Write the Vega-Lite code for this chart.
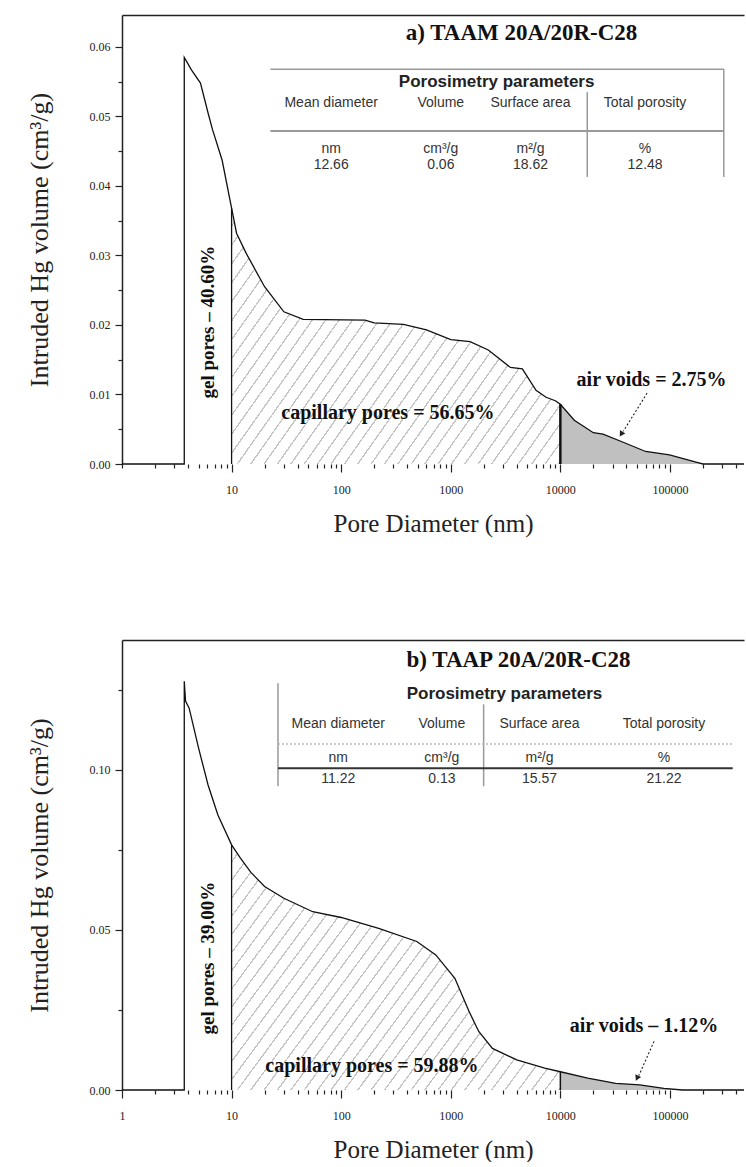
{
 "$schema": "https://vega.github.io/schema/vega-lite/v6.json",
 "background": "white",
 "padding": {"left": 26, "top": 15, "right": 0, "bottom": 0},
 "spacing": 104,
 "config": {
  "view": {"stroke": null},
  "axis": {"labelFont": "Liberation Serif", "titleFont": "Liberation Serif", "labelColor": "#222", "titleColor": "#222", "tickColor": "#222", "domainColor": "#222", "grid": false, "titleFontWeight": "normal"}
 },
 "datasets": {
  "a": [
   {"d":1,"v":0},{"d":3.7,"v":0},{"d":3.7,"v":0.0585},{"d":4.3,"v":0.0567},{"d":5.2,"v":0.0548},{"d":6.1,"v":0.0505},{"d":6.7,"v":0.0481},{"d":8.2,"v":0.0437},{"d":10,"v":0.0368},{"d":11.1,"v":0.0332},{"d":13.6,"v":0.0303},{"d":20,"v":0.0255},{"d":30,"v":0.0219},{"d":45,"v":0.0208},{"d":165,"v":0.0207},{"d":200,"v":0.0203},{"d":370,"v":0.0201},{"d":600,"v":0.0193},{"d":1000,"v":0.0179},{"d":1500,"v":0.0176},{"d":2200,"v":0.0164},{"d":3500,"v":0.0139},{"d":4500,"v":0.0137},{"d":6000,"v":0.0106},{"d":7400,"v":0.0096},{"d":9000,"v":0.0091},{"d":10000,"v":0.0086},{"d":13400,"v":0.0063},{"d":20000,"v":0.0045},{"d":24500,"v":0.0043},{"d":36500,"v":0.0032},{"d":60000,"v":0.0018},{"d":99000,"v":0.0013},{"d":180000,"v":0.0002},{"d":200000,"v":0},{"d":474000,"v":0}
  ],
  "b": [
   {"d":1,"v":0},{"d":3.7,"v":0},{"d":3.7,"v":0.1277},{"d":3.8,"v":0.1215},{"d":4.1,"v":0.1193},{"d":5,"v":0.1068},{"d":6.1,"v":0.0953},{"d":7.5,"v":0.0859},{"d":10,"v":0.0766},{"d":12,"v":0.0725},{"d":15,"v":0.068},{"d":20,"v":0.0636},{"d":30,"v":0.0599},{"d":55,"v":0.0557},{"d":100,"v":0.0539},{"d":220,"v":0.0505},{"d":490,"v":0.0464},{"d":730,"v":0.0422},{"d":1090,"v":0.0349},{"d":1470,"v":0.0245},{"d":1800,"v":0.0183},{"d":2400,"v":0.013},{"d":4000,"v":0.0094},{"d":7200,"v":0.0068},{"d":10000,"v":0.0057},{"d":17800,"v":0.0037},{"d":32000,"v":0.0021},{"d":53000,"v":0.0016},{"d":88000,"v":0.0005},{"d":130000,"v":0},{"d":474000,"v":0}
  ],
  "ta": [
   {"t":"Mean diameter","d":81,"v":0.0519},{"t":"Volume","d":811,"v":0.0519},{"t":"Surface area","d":5340,"v":0.0519},{"t":"Total porosity","d":59300,"v":0.0519},
   {"t":"nm","d":81,"v":0.0453},{"t":"cm³/g","d":811,"v":0.0453},{"t":"m²/g","d":5340,"v":0.0453},{"t":"%","d":59300,"v":0.0453},
   {"t":"12.66","d":81,"v":0.0430},{"t":"0.06","d":811,"v":0.0430},{"t":"18.62","d":5340,"v":0.0430},{"t":"12.48","d":59300,"v":0.0430}
  ],
  "tb": [
   {"t":"Mean diameter","d":94,"v":0.1143},{"t":"Volume","d":829,"v":0.1143},{"t":"Surface area","d":6450,"v":0.1143},{"t":"Total porosity","d":88200,"v":0.1143},
   {"t":"nm","d":94,"v":0.1037},{"t":"cm³/g","d":829,"v":0.1037},{"t":"m²/g","d":6450,"v":0.1037},{"t":"%","d":88200,"v":0.1037},
   {"t":"11.22","d":94,"v":0.0971},{"t":"0.13","d":829,"v":0.0971},{"t":"15.57","d":6450,"v":0.0971},{"t":"21.22","d":88200,"v":0.0971}
  ],
  "one": [{}]
 },
 "vconcat": [
  {
   "width": 622, "height": 449,
   "resolve": {"axis": {"x": "independent", "y": "independent"}},
   "layer": [
    {
     "layer": [
      {"data": {"name": "a"}, "transform": [{"filter": "datum.d >= 10 && datum.d <= 10000"}],
       "mark": {"type": "area", "fill": {"gradient": "linear", "x1": 0, "y1": 0, "x2": 1.25, "y2": 0.6875, "stops": [
   {"offset":0,"color":"#fff"},{"offset":0.022,"color":"#fff"},{"offset":0.022,"color":"#c4c4c4"},{"offset":0.025,"color":"#c4c4c4"},
   {"offset":0.025,"color":"#fff"},{"offset":0.047,"color":"#fff"},{"offset":0.047,"color":"#c4c4c4"},{"offset":0.05,"color":"#c4c4c4"},
   {"offset":0.05,"color":"#fff"},{"offset":0.072,"color":"#fff"},{"offset":0.072,"color":"#c4c4c4"},{"offset":0.075,"color":"#c4c4c4"},
   {"offset":0.075,"color":"#fff"},{"offset":0.097,"color":"#fff"},{"offset":0.097,"color":"#c4c4c4"},{"offset":0.1,"color":"#c4c4c4"},
   {"offset":0.1,"color":"#fff"},{"offset":0.122,"color":"#fff"},{"offset":0.122,"color":"#c4c4c4"},{"offset":0.125,"color":"#c4c4c4"},
   {"offset":0.125,"color":"#fff"},{"offset":0.147,"color":"#fff"},{"offset":0.147,"color":"#c4c4c4"},{"offset":0.15,"color":"#c4c4c4"},
   {"offset":0.15,"color":"#fff"},{"offset":0.172,"color":"#fff"},{"offset":0.172,"color":"#c4c4c4"},{"offset":0.175,"color":"#c4c4c4"},
   {"offset":0.175,"color":"#fff"},{"offset":0.197,"color":"#fff"},{"offset":0.197,"color":"#c4c4c4"},{"offset":0.2,"color":"#c4c4c4"},
   {"offset":0.2,"color":"#fff"},{"offset":0.222,"color":"#fff"},{"offset":0.222,"color":"#c4c4c4"},{"offset":0.225,"color":"#c4c4c4"},
   {"offset":0.225,"color":"#fff"},{"offset":0.247,"color":"#fff"},{"offset":0.247,"color":"#c4c4c4"},{"offset":0.25,"color":"#c4c4c4"},
   {"offset":0.25,"color":"#fff"},{"offset":0.272,"color":"#fff"},{"offset":0.272,"color":"#c4c4c4"},{"offset":0.275,"color":"#c4c4c4"},
   {"offset":0.275,"color":"#fff"},{"offset":0.297,"color":"#fff"},{"offset":0.297,"color":"#c4c4c4"},{"offset":0.3,"color":"#c4c4c4"},
   {"offset":0.3,"color":"#fff"},{"offset":0.322,"color":"#fff"},{"offset":0.322,"color":"#c4c4c4"},{"offset":0.325,"color":"#c4c4c4"},
   {"offset":0.325,"color":"#fff"},{"offset":0.347,"color":"#fff"},{"offset":0.347,"color":"#c4c4c4"},{"offset":0.35,"color":"#c4c4c4"},
   {"offset":0.35,"color":"#fff"},{"offset":0.372,"color":"#fff"},{"offset":0.372,"color":"#c4c4c4"},{"offset":0.375,"color":"#c4c4c4"},
   {"offset":0.375,"color":"#fff"},{"offset":0.397,"color":"#fff"},{"offset":0.397,"color":"#c4c4c4"},{"offset":0.4,"color":"#c4c4c4"},
   {"offset":0.4,"color":"#fff"},{"offset":0.422,"color":"#fff"},{"offset":0.422,"color":"#c4c4c4"},{"offset":0.425,"color":"#c4c4c4"},
   {"offset":0.425,"color":"#fff"},{"offset":0.447,"color":"#fff"},{"offset":0.447,"color":"#c4c4c4"},{"offset":0.45,"color":"#c4c4c4"},
   {"offset":0.45,"color":"#fff"},{"offset":0.472,"color":"#fff"},{"offset":0.472,"color":"#c4c4c4"},{"offset":0.475,"color":"#c4c4c4"},
   {"offset":0.475,"color":"#fff"},{"offset":0.497,"color":"#fff"},{"offset":0.497,"color":"#c4c4c4"},{"offset":0.5,"color":"#c4c4c4"},
   {"offset":0.5,"color":"#fff"},{"offset":0.522,"color":"#fff"},{"offset":0.522,"color":"#c4c4c4"},{"offset":0.525,"color":"#c4c4c4"},
   {"offset":0.525,"color":"#fff"},{"offset":0.547,"color":"#fff"},{"offset":0.547,"color":"#c4c4c4"},{"offset":0.55,"color":"#c4c4c4"},
   {"offset":0.55,"color":"#fff"},{"offset":0.572,"color":"#fff"},{"offset":0.572,"color":"#c4c4c4"},{"offset":0.575,"color":"#c4c4c4"},
   {"offset":0.575,"color":"#fff"},{"offset":0.597,"color":"#fff"},{"offset":0.597,"color":"#c4c4c4"},{"offset":0.6,"color":"#c4c4c4"},
   {"offset":0.6,"color":"#fff"},{"offset":0.622,"color":"#fff"},{"offset":0.622,"color":"#c4c4c4"},{"offset":0.625,"color":"#c4c4c4"},
   {"offset":0.625,"color":"#fff"},{"offset":0.647,"color":"#fff"},{"offset":0.647,"color":"#c4c4c4"},{"offset":0.65,"color":"#c4c4c4"},
   {"offset":0.65,"color":"#fff"},{"offset":0.672,"color":"#fff"},{"offset":0.672,"color":"#c4c4c4"},{"offset":0.675,"color":"#c4c4c4"},
   {"offset":0.675,"color":"#fff"},{"offset":0.697,"color":"#fff"},{"offset":0.697,"color":"#c4c4c4"},{"offset":0.7,"color":"#c4c4c4"},
   {"offset":0.7,"color":"#fff"},{"offset":0.722,"color":"#fff"},{"offset":0.722,"color":"#c4c4c4"},{"offset":0.725,"color":"#c4c4c4"},
   {"offset":0.725,"color":"#fff"},{"offset":0.747,"color":"#fff"},{"offset":0.747,"color":"#c4c4c4"},{"offset":0.75,"color":"#c4c4c4"},
   {"offset":0.75,"color":"#fff"},{"offset":0.772,"color":"#fff"},{"offset":0.772,"color":"#c4c4c4"},{"offset":0.775,"color":"#c4c4c4"},
   {"offset":0.775,"color":"#fff"},{"offset":0.797,"color":"#fff"},{"offset":0.797,"color":"#c4c4c4"},{"offset":0.8,"color":"#c4c4c4"},
   {"offset":0.8,"color":"#fff"},{"offset":0.822,"color":"#fff"},{"offset":0.822,"color":"#c4c4c4"},{"offset":0.825,"color":"#c4c4c4"},
   {"offset":0.825,"color":"#fff"},{"offset":0.847,"color":"#fff"},{"offset":0.847,"color":"#c4c4c4"},{"offset":0.85,"color":"#c4c4c4"},
   {"offset":0.85,"color":"#fff"},{"offset":0.872,"color":"#fff"},{"offset":0.872,"color":"#c4c4c4"},{"offset":0.875,"color":"#c4c4c4"},
   {"offset":0.875,"color":"#fff"},{"offset":0.897,"color":"#fff"},{"offset":0.897,"color":"#c4c4c4"},{"offset":0.9,"color":"#c4c4c4"},
   {"offset":0.9,"color":"#fff"},{"offset":0.922,"color":"#fff"},{"offset":0.922,"color":"#c4c4c4"},{"offset":0.925,"color":"#c4c4c4"},
   {"offset":0.925,"color":"#fff"},{"offset":0.947,"color":"#fff"},{"offset":0.947,"color":"#c4c4c4"},{"offset":0.95,"color":"#c4c4c4"},
   {"offset":0.95,"color":"#fff"},{"offset":0.972,"color":"#fff"},{"offset":0.972,"color":"#c4c4c4"},{"offset":0.975,"color":"#c4c4c4"},
   {"offset":0.975,"color":"#fff"},{"offset":0.997,"color":"#fff"},{"offset":0.997,"color":"#c4c4c4"},{"offset":1,"color":"#c4c4c4"}
       ]}},
       "encoding": {
        "x": {"field": "d", "type": "quantitative", "scale": {"type": "log", "domain": [1, 474000], "nice": false},
         "axis": {"orient": "bottom", "title": "Pore Diameter (nm)", "values": [10,100,1000,10000,100000], "format": "d",
          "tickSize": 8, "domain": false, "labelFontSize": 12, "labelPadding": 12, "titleFontSize": 25, "titlePadding": 16, "tickWidth": 1.2, "labelFlush": false, "labelOverlap": false}},
        "y": {"field": "v", "type": "quantitative", "scale": {"domain": [0, 0.0646], "nice": false},
         "axis": {"orient": "left", "title": "Intruded Hg volume (cm³/g)", "values": [0,0.01,0.02,0.03,0.04,0.05,0.06], "format": ".2f",
          "tickSize": 7, "labelFontSize": 12, "labelPadding": 5, "titleFontSize": 26, "titlePadding": 37, "domainWidth": 1.5, "tickWidth": 1.2, "labelOverlap": false}}
       }},
      {"data": {"name": "a"}, "transform": [{"filter": "datum.d >= 10000 && datum.d <= 200000"}],
       "mark": {"type": "area", "fill": "#c0c0c0"},
       "encoding": {"x": {"field": "d", "type": "quantitative"}, "y": {"field": "v", "type": "quantitative"}}},
      {"data": {"name": "a"}, "mark": {"type": "line", "color": "#111", "strokeWidth": 1.3},
       "encoding": {"x": {"field": "d", "type": "quantitative"}, "y": {"field": "v", "type": "quantitative"}}},
      {"data": {"name": "a"}, "transform": [{"filter": "datum.d == 10"}], "mark": {"type": "rule", "color": "#111", "strokeWidth": 1.3},
       "encoding": {"x": {"field": "d", "type": "quantitative"}, "y": {"field": "v", "type": "quantitative"}, "y2": {"datum": 0}}},
      {"data": {"name": "a"}, "transform": [{"filter": "datum.d == 10000"}], "mark": {"type": "rule", "color": "#111", "strokeWidth": 2.5},
       "encoding": {"x": {"field": "d", "type": "quantitative"}, "y": {"field": "v", "type": "quantitative"}, "y2": {"datum": 0}}},
      {"data": {"name": "one"}, "mark": {"type": "text", "text": "a) TAAM 20A/20R-C28", "font": "Liberation Serif", "fontWeight": "bold", "fontSize": 23, "color": "#111"},
       "encoding": {"x": {"datum": 4420}, "y": {"datum": 0.062}}},
      {"data": {"name": "one"}, "mark": {"type": "text", "text": "capillary pores = 56.65%", "font": "Liberation Serif", "fontWeight": "bold", "fontSize": 20, "color": "#111"},
       "encoding": {"x": {"datum": 267}, "y": {"datum": 0.0073}}},
      {"data": {"name": "one"}, "mark": {"type": "text", "text": "air voids = 2.75%", "font": "Liberation Serif", "fontWeight": "bold", "fontSize": 20, "color": "#111"},
       "encoding": {"x": {"datum": 68000}, "y": {"datum": 0.0121}}},
      {"data": {"name": "one"}, "mark": {"type": "text", "text": "gel pores – 40.60%", "font": "Liberation Serif", "fontWeight": "bold", "fontSize": 19, "angle": 270, "color": "#111"},
       "encoding": {"x": {"datum": 6.05}, "y": {"datum": 0.0204}}},
      {"data": {"name": "one"}, "mark": {"type": "rule", "color": "#222", "strokeWidth": 1.1, "strokeDash": [2, 2]},
       "encoding": {"x": {"datum": 61900}, "y": {"datum": 0.0102}, "x2": {"datum": 37500}, "y2": {"datum": 0.0047}}},
      {"data": {"name": "one"}, "mark": {"type": "point", "shape": "triangle-down", "filled": true, "color": "#222", "size": 40, "angle": 32, "opacity": 1},
       "encoding": {"x": {"datum": 35900}, "y": {"datum": 0.0043}}},
      {"data": {"name": "one"}, "mark": {"type": "rule", "color": "#999", "strokeWidth": 1.5}, "encoding": {"x": {"datum": 22.6}, "x2": {"datum": 310000}, "y": {"datum": 0.0568}}},
      {"data": {"name": "one"}, "mark": {"type": "rule", "color": "#999", "strokeWidth": 2}, "encoding": {"x": {"datum": 22.6}, "x2": {"datum": 310000}, "y": {"datum": 0.0479}}},
      {"data": {"name": "one"}, "mark": {"type": "rule", "color": "#999", "strokeWidth": 1.5}, "encoding": {"x": {"datum": 17600}, "y": {"datum": 0.0413}, "y2": {"datum": 0.0535}}},
      {"data": {"name": "one"}, "mark": {"type": "rule", "color": "#999", "strokeWidth": 1.5}, "encoding": {"x": {"datum": 310000}, "y": {"datum": 0.0413}, "y2": {"datum": 0.0568}}},
      {"data": {"name": "one"}, "mark": {"type": "text", "text": "Porosimetry parameters", "font": "Liberation Sans", "fontWeight": "bold", "fontSize": 17, "color": "#222"},
       "encoding": {"x": {"datum": 2620}, "y": {"datum": 0.0550}}},
      {"data": {"name": "ta"}, "mark": {"type": "text", "font": "Liberation Sans", "fontSize": 14, "color": "#333"},
       "encoding": {"x": {"field": "d", "type": "quantitative"}, "y": {"field": "v", "type": "quantitative"}, "text": {"field": "t"}}}
     ]
    },
    {"data": {"name": "a"}, "mark": {"type": "point", "opacity": 0},
     "encoding": {
      "x": {"field": "d", "type": "quantitative", "scale": {"type": "log", "domain": [1, 474000], "nice": false},
       "axis": {"orient": "bottom", "values": [1,2,3,4,5,6,7,8,9,20,30,40,50,60,70,80,90,200,300,400,500,600,700,800,900,2000,3000,4000,5000,6000,7000,8000,9000,20000,30000,40000,50000,60000,70000,80000,90000,200000,300000,400000], "labels": false, "title": null, "domain": false, "tickSize": 4, "tickWidth": 1.2}},
      "y": {"field": "v", "type": "quantitative", "scale": {"domain": [0, 0.0646], "nice": false},
       "axis": {"orient": "left", "values": [0.005,0.015,0.025,0.035,0.045,0.055], "labels": false, "title": null, "domain": false, "tickSize": 4, "tickWidth": 1.2}}}},
    {"data": {"name": "a"}, "mark": {"type": "point", "opacity": 0},
     "encoding": {"x": {"field": "d", "type": "quantitative", "scale": {"type": "log", "domain": [1, 474000], "nice": false},
      "axis": {"orient": "top", "labels": false, "ticks": false, "domain": true, "title": null, "domainWidth": 1.5}}}}
   ]
  },
  {
   "width": 622, "height": 450,
   "resolve": {"axis": {"x": "independent", "y": "independent"}},
   "layer": [
    {
     "layer": [
      {"data": {"name": "b"}, "transform": [{"filter": "datum.d >= 10 && datum.d <= 10000"}],
       "mark": {"type": "area", "fill": {"gradient": "linear", "x1": 0, "y1": 0, "x2": 1.25, "y2": 0.6875, "stops": [
   {"offset":0,"color":"#fff"},{"offset":0.022,"color":"#fff"},{"offset":0.022,"color":"#c4c4c4"},{"offset":0.025,"color":"#c4c4c4"},
   {"offset":0.025,"color":"#fff"},{"offset":0.047,"color":"#fff"},{"offset":0.047,"color":"#c4c4c4"},{"offset":0.05,"color":"#c4c4c4"},
   {"offset":0.05,"color":"#fff"},{"offset":0.072,"color":"#fff"},{"offset":0.072,"color":"#c4c4c4"},{"offset":0.075,"color":"#c4c4c4"},
   {"offset":0.075,"color":"#fff"},{"offset":0.097,"color":"#fff"},{"offset":0.097,"color":"#c4c4c4"},{"offset":0.1,"color":"#c4c4c4"},
   {"offset":0.1,"color":"#fff"},{"offset":0.122,"color":"#fff"},{"offset":0.122,"color":"#c4c4c4"},{"offset":0.125,"color":"#c4c4c4"},
   {"offset":0.125,"color":"#fff"},{"offset":0.147,"color":"#fff"},{"offset":0.147,"color":"#c4c4c4"},{"offset":0.15,"color":"#c4c4c4"},
   {"offset":0.15,"color":"#fff"},{"offset":0.172,"color":"#fff"},{"offset":0.172,"color":"#c4c4c4"},{"offset":0.175,"color":"#c4c4c4"},
   {"offset":0.175,"color":"#fff"},{"offset":0.197,"color":"#fff"},{"offset":0.197,"color":"#c4c4c4"},{"offset":0.2,"color":"#c4c4c4"},
   {"offset":0.2,"color":"#fff"},{"offset":0.222,"color":"#fff"},{"offset":0.222,"color":"#c4c4c4"},{"offset":0.225,"color":"#c4c4c4"},
   {"offset":0.225,"color":"#fff"},{"offset":0.247,"color":"#fff"},{"offset":0.247,"color":"#c4c4c4"},{"offset":0.25,"color":"#c4c4c4"},
   {"offset":0.25,"color":"#fff"},{"offset":0.272,"color":"#fff"},{"offset":0.272,"color":"#c4c4c4"},{"offset":0.275,"color":"#c4c4c4"},
   {"offset":0.275,"color":"#fff"},{"offset":0.297,"color":"#fff"},{"offset":0.297,"color":"#c4c4c4"},{"offset":0.3,"color":"#c4c4c4"},
   {"offset":0.3,"color":"#fff"},{"offset":0.322,"color":"#fff"},{"offset":0.322,"color":"#c4c4c4"},{"offset":0.325,"color":"#c4c4c4"},
   {"offset":0.325,"color":"#fff"},{"offset":0.347,"color":"#fff"},{"offset":0.347,"color":"#c4c4c4"},{"offset":0.35,"color":"#c4c4c4"},
   {"offset":0.35,"color":"#fff"},{"offset":0.372,"color":"#fff"},{"offset":0.372,"color":"#c4c4c4"},{"offset":0.375,"color":"#c4c4c4"},
   {"offset":0.375,"color":"#fff"},{"offset":0.397,"color":"#fff"},{"offset":0.397,"color":"#c4c4c4"},{"offset":0.4,"color":"#c4c4c4"},
   {"offset":0.4,"color":"#fff"},{"offset":0.422,"color":"#fff"},{"offset":0.422,"color":"#c4c4c4"},{"offset":0.425,"color":"#c4c4c4"},
   {"offset":0.425,"color":"#fff"},{"offset":0.447,"color":"#fff"},{"offset":0.447,"color":"#c4c4c4"},{"offset":0.45,"color":"#c4c4c4"},
   {"offset":0.45,"color":"#fff"},{"offset":0.472,"color":"#fff"},{"offset":0.472,"color":"#c4c4c4"},{"offset":0.475,"color":"#c4c4c4"},
   {"offset":0.475,"color":"#fff"},{"offset":0.497,"color":"#fff"},{"offset":0.497,"color":"#c4c4c4"},{"offset":0.5,"color":"#c4c4c4"},
   {"offset":0.5,"color":"#fff"},{"offset":0.522,"color":"#fff"},{"offset":0.522,"color":"#c4c4c4"},{"offset":0.525,"color":"#c4c4c4"},
   {"offset":0.525,"color":"#fff"},{"offset":0.547,"color":"#fff"},{"offset":0.547,"color":"#c4c4c4"},{"offset":0.55,"color":"#c4c4c4"},
   {"offset":0.55,"color":"#fff"},{"offset":0.572,"color":"#fff"},{"offset":0.572,"color":"#c4c4c4"},{"offset":0.575,"color":"#c4c4c4"},
   {"offset":0.575,"color":"#fff"},{"offset":0.597,"color":"#fff"},{"offset":0.597,"color":"#c4c4c4"},{"offset":0.6,"color":"#c4c4c4"},
   {"offset":0.6,"color":"#fff"},{"offset":0.622,"color":"#fff"},{"offset":0.622,"color":"#c4c4c4"},{"offset":0.625,"color":"#c4c4c4"},
   {"offset":0.625,"color":"#fff"},{"offset":0.647,"color":"#fff"},{"offset":0.647,"color":"#c4c4c4"},{"offset":0.65,"color":"#c4c4c4"},
   {"offset":0.65,"color":"#fff"},{"offset":0.672,"color":"#fff"},{"offset":0.672,"color":"#c4c4c4"},{"offset":0.675,"color":"#c4c4c4"},
   {"offset":0.675,"color":"#fff"},{"offset":0.697,"color":"#fff"},{"offset":0.697,"color":"#c4c4c4"},{"offset":0.7,"color":"#c4c4c4"},
   {"offset":0.7,"color":"#fff"},{"offset":0.722,"color":"#fff"},{"offset":0.722,"color":"#c4c4c4"},{"offset":0.725,"color":"#c4c4c4"},
   {"offset":0.725,"color":"#fff"},{"offset":0.747,"color":"#fff"},{"offset":0.747,"color":"#c4c4c4"},{"offset":0.75,"color":"#c4c4c4"},
   {"offset":0.75,"color":"#fff"},{"offset":0.772,"color":"#fff"},{"offset":0.772,"color":"#c4c4c4"},{"offset":0.775,"color":"#c4c4c4"},
   {"offset":0.775,"color":"#fff"},{"offset":0.797,"color":"#fff"},{"offset":0.797,"color":"#c4c4c4"},{"offset":0.8,"color":"#c4c4c4"},
   {"offset":0.8,"color":"#fff"},{"offset":0.822,"color":"#fff"},{"offset":0.822,"color":"#c4c4c4"},{"offset":0.825,"color":"#c4c4c4"},
   {"offset":0.825,"color":"#fff"},{"offset":0.847,"color":"#fff"},{"offset":0.847,"color":"#c4c4c4"},{"offset":0.85,"color":"#c4c4c4"},
   {"offset":0.85,"color":"#fff"},{"offset":0.872,"color":"#fff"},{"offset":0.872,"color":"#c4c4c4"},{"offset":0.875,"color":"#c4c4c4"},
   {"offset":0.875,"color":"#fff"},{"offset":0.897,"color":"#fff"},{"offset":0.897,"color":"#c4c4c4"},{"offset":0.9,"color":"#c4c4c4"},
   {"offset":0.9,"color":"#fff"},{"offset":0.922,"color":"#fff"},{"offset":0.922,"color":"#c4c4c4"},{"offset":0.925,"color":"#c4c4c4"},
   {"offset":0.925,"color":"#fff"},{"offset":0.947,"color":"#fff"},{"offset":0.947,"color":"#c4c4c4"},{"offset":0.95,"color":"#c4c4c4"},
   {"offset":0.95,"color":"#fff"},{"offset":0.972,"color":"#fff"},{"offset":0.972,"color":"#c4c4c4"},{"offset":0.975,"color":"#c4c4c4"},
   {"offset":0.975,"color":"#fff"},{"offset":0.997,"color":"#fff"},{"offset":0.997,"color":"#c4c4c4"},{"offset":1,"color":"#c4c4c4"}
       ]}},
       "encoding": {
        "x": {"field": "d", "type": "quantitative", "scale": {"type": "log", "domain": [1, 474000], "nice": false},
         "axis": {"orient": "bottom", "title": "Pore Diameter (nm)", "values": [1,10,100,1000,10000,100000], "format": "d",
          "tickSize": 8, "domain": false, "labelFontSize": 12, "labelPadding": 12, "titleFontSize": 25, "titlePadding": 16, "tickWidth": 1.2, "labelFlush": false, "labelOverlap": false}},
        "y": {"field": "v", "type": "quantitative", "scale": {"domain": [0, 0.1406], "nice": false},
         "axis": {"orient": "left", "title": "Intruded Hg volume (cm³/g)", "values": [0,0.05,0.1], "format": ".2f",
          "tickSize": 7, "labelFontSize": 12, "labelPadding": 5, "titleFontSize": 26, "titlePadding": 37, "domainWidth": 1.5, "tickWidth": 1.2, "labelOverlap": false}}
       }},
      {"data": {"name": "b"}, "transform": [{"filter": "datum.d >= 10000 && datum.d <= 130000"}],
       "mark": {"type": "area", "fill": "#c0c0c0"},
       "encoding": {"x": {"field": "d", "type": "quantitative"}, "y": {"field": "v", "type": "quantitative"}}},
      {"data": {"name": "b"}, "mark": {"type": "line", "color": "#111", "strokeWidth": 1.3},
       "encoding": {"x": {"field": "d", "type": "quantitative"}, "y": {"field": "v", "type": "quantitative"}}},
      {"data": {"name": "b"}, "transform": [{"filter": "datum.d == 10"}], "mark": {"type": "rule", "color": "#111", "strokeWidth": 1.3},
       "encoding": {"x": {"field": "d", "type": "quantitative"}, "y": {"field": "v", "type": "quantitative"}, "y2": {"datum": 0}}},
      {"data": {"name": "b"}, "transform": [{"filter": "datum.d == 10000"}], "mark": {"type": "rule", "color": "#111", "strokeWidth": 1.5},
       "encoding": {"x": {"field": "d", "type": "quantitative"}, "y": {"field": "v", "type": "quantitative"}, "y2": {"datum": 0}}},
      {"data": {"name": "one"}, "mark": {"type": "text", "text": "b) TAAP 20A/20R-C28", "font": "Liberation Serif", "fontWeight": "bold", "fontSize": 23, "color": "#111"},
       "encoding": {"x": {"datum": 4150}, "y": {"datum": 0.1343}}},
      {"data": {"name": "one"}, "mark": {"type": "text", "text": "capillary pores = 59.88%", "font": "Liberation Serif", "fontWeight": "bold", "fontSize": 20, "color": "#111"},
       "encoding": {"x": {"datum": 191}, "y": {"datum": 0.0074}}},
      {"data": {"name": "one"}, "mark": {"type": "text", "text": "air voids – 1.12%", "font": "Liberation Serif", "fontWeight": "bold", "fontSize": 20, "color": "#111"},
       "encoding": {"x": {"datum": 58000}, "y": {"datum": 0.0199}}},
      {"data": {"name": "one"}, "mark": {"type": "text", "text": "gel pores – 39.00%", "font": "Liberation Serif", "fontWeight": "bold", "fontSize": 19, "angle": 270, "color": "#111"},
       "encoding": {"x": {"datum": 6.05}, "y": {"datum": 0.0412}}},
      {"data": {"name": "one"}, "mark": {"type": "rule", "color": "#222", "strokeWidth": 1.1, "strokeDash": [2, 2]},
       "encoding": {"x": {"datum": 71600}, "y": {"datum": 0.0152}, "x2": {"datum": 52000}, "y2": {"datum": 0.0045}}},
      {"data": {"name": "one"}, "mark": {"type": "point", "shape": "triangle-down", "filled": true, "color": "#222", "size": 40, "angle": 25, "opacity": 1},
       "encoding": {"x": {"datum": 50100}, "y": {"datum": 0.0037}}},
      {"data": {"name": "one"}, "mark": {"type": "rule", "color": "#999", "strokeWidth": 1.5}, "encoding": {"x": {"datum": 26.5}, "y": {"datum": 0.0949}, "y2": {"datum": 0.1271}}},
      {"data": {"name": "one"}, "mark": {"type": "rule", "color": "#999", "strokeWidth": 1.5}, "encoding": {"x": {"datum": 1995}, "y": {"datum": 0.0949}, "y2": {"datum": 0.1205}}},
      {"data": {"name": "one"}, "mark": {"type": "rule", "color": "#bbb", "strokeWidth": 1.5, "strokeDash": [2, 2]}, "encoding": {"x": {"datum": 26.5}, "x2": {"datum": 374000}, "y": {"datum": 0.1081}}},
      {"data": {"name": "one"}, "mark": {"type": "rule", "color": "#333", "strokeWidth": 2}, "encoding": {"x": {"datum": 26.5}, "x2": {"datum": 374000}, "y": {"datum": 0.1005}}},
      {"data": {"name": "one"}, "mark": {"type": "text", "text": "Porosimetry parameters", "font": "Liberation Sans", "fontWeight": "bold", "fontSize": 17, "color": "#222"},
       "encoding": {"x": {"datum": 3090}, "y": {"datum": 0.1238}}},
      {"data": {"name": "tb"}, "mark": {"type": "text", "font": "Liberation Sans", "fontSize": 14, "color": "#333"},
       "encoding": {"x": {"field": "d", "type": "quantitative"}, "y": {"field": "v", "type": "quantitative"}, "text": {"field": "t"}}}
     ]
    },
    {"data": {"name": "b"}, "mark": {"type": "point", "opacity": 0},
     "encoding": {
      "x": {"field": "d", "type": "quantitative", "scale": {"type": "log", "domain": [1, 474000], "nice": false},
       "axis": {"orient": "bottom", "values": [2,3,4,5,6,7,8,9,20,30,40,50,60,70,80,90,200,300,400,500,600,700,800,900,2000,3000,4000,5000,6000,7000,8000,9000,20000,30000,40000,50000,60000,70000,80000,90000,200000,300000,400000], "labels": false, "title": null, "domain": false, "tickSize": 4, "tickWidth": 1.2}},
      "y": {"field": "v", "type": "quantitative", "scale": {"domain": [0, 0.1406], "nice": false},
       "axis": {"orient": "left", "values": [0.025,0.075,0.125], "labels": false, "title": null, "domain": false, "tickSize": 4, "tickWidth": 1.2}}}},
    {"data": {"name": "b"}, "mark": {"type": "point", "opacity": 0},
     "encoding": {"x": {"field": "d", "type": "quantitative", "scale": {"type": "log", "domain": [1, 474000], "nice": false},
      "axis": {"orient": "top", "labels": false, "ticks": false, "domain": true, "title": null, "domainWidth": 1.5}}}}
   ]
  }
 ]
}
